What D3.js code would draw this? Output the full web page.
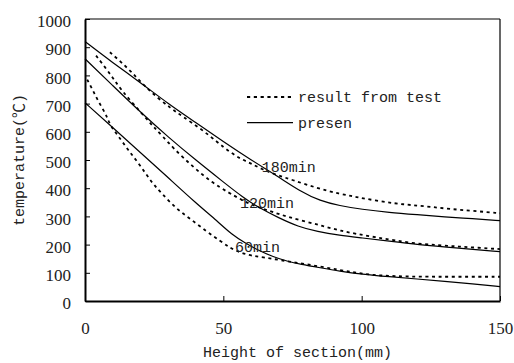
<!DOCTYPE html>
<html>
<head>
<meta charset="utf-8">
<script src="https://cdn.jsdelivr.net/npm/d3@7/dist/d3.min.js"></script>
<style>
  html, body { margin: 0; padding: 0; background: #fff; }
  svg { display: block; }
</style>
</head>
<body>
<svg id="chart" width="514" height="363"></svg>
<script>
// ---- data (height of section in mm, temperature in °C) ----
const yTicks = [0, 100, 200, 300, 400, 500, 600, 700, 800, 900, 1000];
const xTicks = [0, 50, 100, 150];

const test180 = [[9,882],[13,848],[17,810],[21,768],[26,722],[31,684],[35,656],[42,610],[48,562],[52,531],[56,505],[60,488],[64,467],[69,448],[75,429],[84,400],[92,380],[98,369],[105,356],[112,346],[118,340],[125,334],[132,326],[140,320],[150,311]];
const presen180 = [[0,920],[10,845],[20,775],[30,700],[40,633],[50,565],[60,500],[70,440],[78,388],[85,355],[92,338],[100,325],[110,314],[120,306],[130,298],[140,292],[150,285]];

const test120 = [[4,870],[7.5,826],[10.5,785],[13.5,744],[17.7,696],[22.5,643],[25,615],[28,585],[32,541],[39,476],[46,419],[52,384],[56,362],[60,342],[64,328],[68,315],[73,299],[80,281],[86,266],[92,250],[98,238],[105,226],[112,215],[120,203],[128,198],[135,193],[142,189],[150,184]];
const presen120 = [[0,859],[10,764],[20,670],[30,582],[40,500],[50,422],[57,368],[63,330],[70,295],[77,264],[84,246],[92,233],[100,224],[110,212],[120,200],[135,187],[150,175]];

const test60 = [[0.8,785],[2.1,761],[3.3,738],[4.5,714],[6.9,673],[8.1,649],[9.3,620],[11.7,590],[15.6,535],[19.9,482],[24.1,420],[27.7,382],[33.1,326],[37.9,293],[44,246],[48.8,214],[52.4,188],[56,172],[60.4,160],[65,154],[70.5,145],[77.7,134],[85,122],[92,110],[98,100],[104,92],[112,88],[120,86],[135,86],[150,86]];
const presen60 = [[0,703],[10,615],[20,527],[30,438],[40,348],[48,282],[53,236],[58,205],[63,178],[68,157],[73,141],[78,130],[85,118],[92,106],[100,95],[110,86],[120,78],[130,70],[140,61],[150,51]];

const curveLabels = [
  { text: "180min", x: 63.9, y: 458 },
  { text: "120min", x: 56,   y: 330 },
  { text: "60min",  x: 54.2, y: 175 }
];
const legendItems = [
  { text: "result from test", dashed: true },
  { text: "presen", dashed: false }
];
const xTitle = "Height of section(mm)";
const yTitle = "temperature(℃)";

// ---- layout ----
const svg = d3.select("#chart");
const L = 85, R = 500, T = 19, B = 301;
const x = d3.scaleLinear().domain([0, 150]).range([L, R]);
const y = d3.scaleLinear().domain([0, 1000]).range([B, T]);

const NUM_FONT = '"Liberation Serif", serif';
const MONO_FONT = '"Liberation Mono", "Noto Sans CJK SC", monospace';

function numText(sel) {
  sel.style("font-family", NUM_FONT).style("font-size", "17px").attr("fill", "#222");
}
function monoText(sel) {
  sel.style("font-family", MONO_FONT).style("font-size", "15px").attr("fill", "#222");
}

// frame
svg.append("line").attr("x1", L).attr("x2", R).attr("y1", T).attr("y2", T)
  .attr("stroke", "#000").attr("stroke-width", 1.2);
svg.append("line").attr("x1", R).attr("x2", R).attr("y1", T).attr("y2", B)
  .attr("stroke", "#000").attr("stroke-width", 1.2);

// y axis
const gy = svg.append("g").attr("transform", `translate(${L},0)`)
  .call(d3.axisLeft(y).tickValues(yTicks).tickFormat(d3.format("d"))
    .tickSizeInner(-5).tickSizeOuter(0).tickPadding(14));
gy.attr("font-family", null).attr("font-size", null);
gy.select(".domain").attr("stroke-width", 2);
gy.selectAll(".tick line").attr("stroke-width", 1);
gy.selectAll(".tick text").call(numText).attr("dy", "0.45em");

// x axis
const gx = svg.append("g").attr("transform", `translate(0,${B})`)
  .call(d3.axisBottom(x).tickValues(xTicks).tickFormat(d3.format("d"))
    .tickSizeInner(-5).tickSizeOuter(0).tickPadding(21));
gx.attr("font-family", null).attr("font-size", null);
gx.select(".domain").attr("stroke-width", 2);
gx.selectAll(".tick line").attr("stroke-width", 1);
gx.selectAll(".tick text").call(numText).attr("dy", "0.71em");

// axis titles
svg.append("text").attr("x", (L + R) / 2 + 5).attr("y", 357)
  .attr("text-anchor", "middle").call(monoText).text(xTitle);
svg.append("text").attr("transform", `translate(24,${(T + B) / 2}) rotate(-90)`)
  .attr("text-anchor", "middle").call(monoText).text(yTitle);

// curves
const line = d3.line().x(d => x(d[0])).y(d => y(d[1])).curve(d3.curveBasis);
[test180, test120, test60].forEach(s => {
  svg.append("path").datum(s).attr("d", line).attr("fill", "none")
    .attr("stroke", "#000").attr("stroke-width", 1.8)
    .attr("stroke-dasharray", "3,3.6");
});
[presen180, presen120, presen60].forEach(s => {
  svg.append("path").datum(s).attr("d", line).attr("fill", "none")
    .attr("stroke", "#000").attr("stroke-width", 1.2);
});

// curve labels
svg.selectAll(".clabel").data(curveLabels).enter().append("text")
  .attr("x", d => x(d.x)).attr("y", d => y(d.y)).call(monoText)
  .text(d => d.text);

// legend
const lg = svg.append("g").attr("transform", "translate(247,97)");
legendItems.forEach((d, i) => {
  const gy0 = i * 25.6;
  lg.append("line").attr("x1", 0).attr("x2", 46).attr("y1", gy0).attr("y2", gy0)
    .attr("stroke", "#000")
    .attr("stroke-width", d.dashed ? 2 : 1.3)
    .attr("stroke-dasharray", d.dashed ? "3.2,3.6" : null);
  lg.append("text").attr("x", 51).attr("y", gy0 + 5).call(monoText).text(d.text);
});
</script>
</body>
</html>
